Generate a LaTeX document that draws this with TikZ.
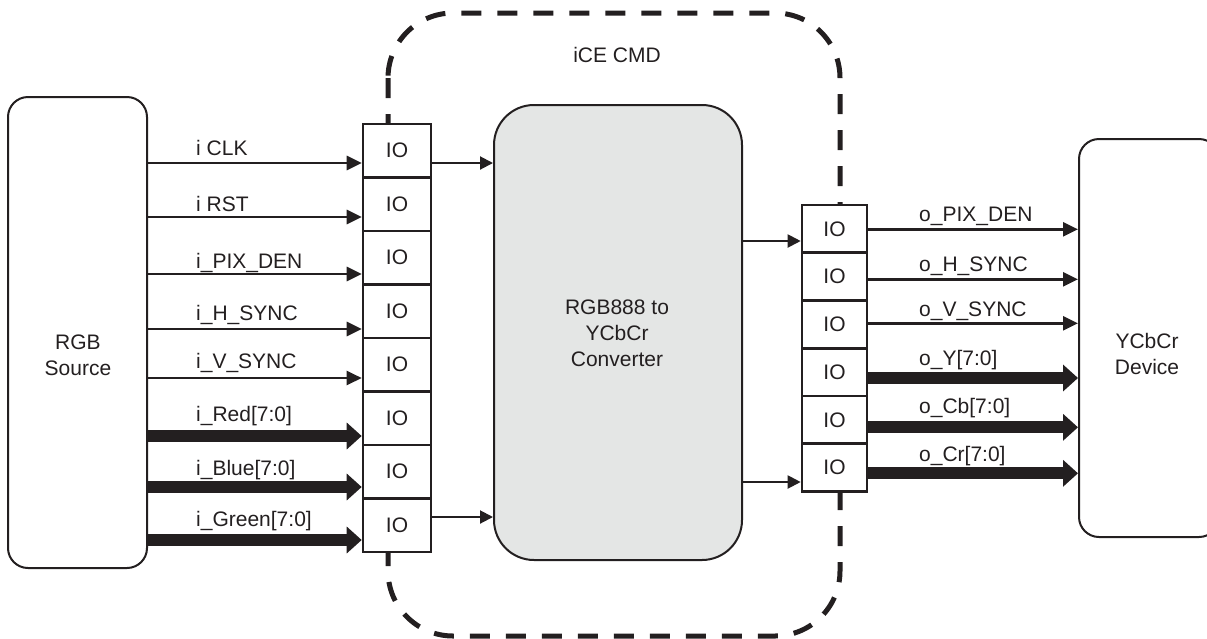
\documentclass[tikz,border=0pt]{standalone}
\usepackage{fontspec}
\setmainfont{Liberation Sans}
\usetikzlibrary{arrows.meta}
\definecolor{ink}{HTML}{231F20}
\definecolor{convfill}{HTML}{E4E6E5}
\begin{document}
\begin{tikzpicture}[x=1pt,y=-1pt,
  every node/.style={font=\fontsize{21}{26}\selectfont, text=ink},
  block/.style={draw=ink, line width=2pt, rounded corners=20pt, inner sep=0pt},
  conv/.style={draw=ink, fill=convfill, line width=2pt, rounded corners=40pt, inner sep=0pt},
  region/.style={draw=ink, line width=5pt, dash pattern=on 20pt off 16pt, rounded corners=65pt},
  lio/.style={draw=ink, fill=white, line width=2.6pt, minimum width=68pt, minimum height=53.5pt, inner sep=0pt},
  rio/.style={draw=ink, fill=white, line width=2.6pt, minimum width=65pt, minimum height=47.75pt, inner sep=0pt},
  sig/.style={draw=ink, line width=2.8pt, -{Triangle[length=15pt,width=14pt]}},
  bus/.style={draw=ink, line width=12pt, -{Triangle[length=15pt,width=26pt]}},
  link/.style={draw=ink, line width=2pt, -{Triangle[length=13pt,width=13pt]}},
  lbl/.style={anchor=base west, inner sep=0pt},
  ttl/.style={align=center, inner sep=0pt}
]
\useasboundingbox (0,0) rectangle (1207,638);

% iCE CMD region
\draw[region] (388,13) rectangle (840,636);
\node[anchor=base, inner sep=0pt] (cmd) at (617,62) {iCE CMD};

% blocks
\node[block, minimum width=139pt, minimum height=471pt] (src) at (77.5,332.5) {};
\node[ttl] (srct) at (78,355) {RGB\\Source};
\node[block, minimum width=140pt, minimum height=398pt] (dev) at (1149,338) {};
\node[ttl] (devt) at (1147,354) {YCbCr\\Device};
\node[conv, minimum width=248pt, minimum height=455pt] (cv) at (618,332.5) {};
\node[ttl] (cvt) at (617,333) {RGB888 to\\YCbCr\\Converter};

% left IO column
\foreach \k in {1,...,8} {
  \node[lio] (L\k) at (397,{124+53.5*(\k-0.5)}) {IO};
}
% right IO column
\foreach \k in {1,...,6} {
  \node[rio] (R\k) at (834.5,{205+47.75*(\k-0.5)}) {IO};
}

% inputs
\draw[sig] (src.east |- 0,163) -- (L1.west |- 0,163);
\draw[sig] (src.east |- 0,217) -- (L2.west |- 0,217);
\draw[sig] (src.east |- 0,274) -- (L3.west |- 0,274);
\draw[sig] (src.east |- 0,329) -- (L4.west |- 0,329);
\draw[sig, line width=2.3pt] (src.east |- 0,378) -- (L5.west |- 0,378);
\draw[bus] (src.east |- 0,436) -- (L6.west |- 0,436);
\draw[bus] (src.east |- 0,487) -- (L7.west |- 0,487);
\draw[bus] (src.east |- 0,540) -- (L8.west |- 0,540);

\node[lbl] (l1) at (196,155.7) {i CLK};
\node[lbl] (l2) at (196,211.7) {i RST};
\node[lbl] (l3) at (196,268.3) {i\_PIX\_DEN};
\node[lbl] (l4) at (196,320.7) {i\_H\_SYNC};
\node[lbl] (l5) at (196,368.3) {i\_V\_SYNC};
\node[lbl] (l6) at (196,421.7) {i\_Red[7:0]};
\node[lbl] (l7) at (196,475.7) {i\_Blue[7:0]};
\node[lbl] (l8) at (196,526.7) {i\_Green[7:0]};

% links to/from converter
\draw[link] (L1.east |- 0,163) -- (cv.west |- 0,163);
\draw[link] (L8.east |- 0,517) -- (cv.west |- 0,517);
\draw[link] (cv.east |- 0,241) -- (R1.west |- 0,241);
\draw[link] (cv.east |- 0,482) -- (R6.west |- 0,482);

% outputs
\draw[sig, line width=2.5pt] (R1.east |- 0,229.3) -- (dev.west |- 0,229.3);
\draw[sig, line width=2.5pt] (R2.east |- 0,279.3) -- (dev.west |- 0,279.3);
\draw[sig, line width=2.5pt] (R3.east |- 0,323.3) -- (dev.west |- 0,323.3);
\draw[bus] (R4.east |- 0,378) -- (dev.west |- 0,378);
\draw[bus] (R5.east |- 0,427.3) -- (dev.west |- 0,427.3);
\draw[bus] (R6.east |- 0,473.3) -- (dev.west |- 0,473.3);

\node[lbl] (r1) at (919,221.7) {o\_PIX\_DEN};
\node[lbl] (r2) at (919,271) {o\_H\_SYNC};
\node[lbl] (r3) at (919,316.7) {o\_V\_SYNC};
\node[lbl] (r4) at (919,365) {o\_Y[7:0]};
\node[lbl] (r5) at (919,413.3) {o\_Cb[7:0]};
\node[lbl] (r6) at (919,461.7) {o\_Cr[7:0]};
\end{tikzpicture}
\end{document}
